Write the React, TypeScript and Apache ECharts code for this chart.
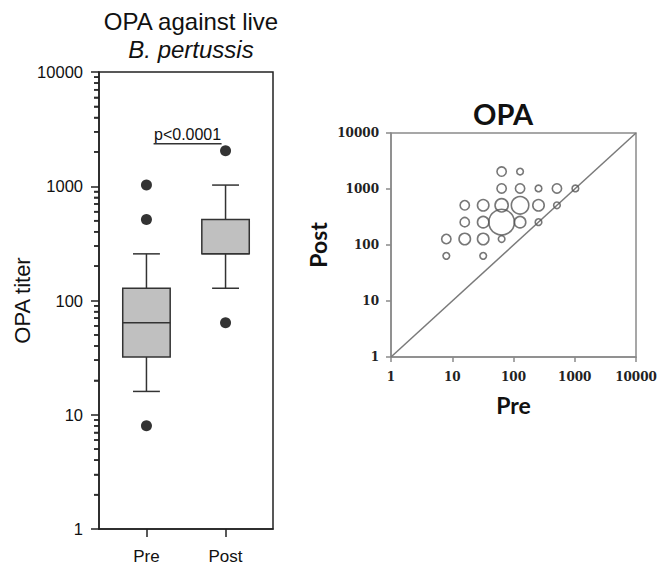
import React, { useEffect, useRef } from "react";
import * as echarts from "echarts";

// ---------- Left panel: box plot ----------
const boxCategories = ["Pre", "Post"];
// [low whisker, Q1, median, Q3, high whisker]
const boxStats = [
  [16, 32, 64, 128, 256],
  [128, 256, 256, 512, 1024],
];
const outlierGroup = [0, 0, 0, 1, 1];
const outlierValues = [1024, 512, 8, 2048, 64];
const pValueText = "p<0.0001";
const pValueSpan = [0.09, 0.95];
const pValueLevel = 2350;
const minorTickValues = [
  2, 3, 4, 5, 6, 7, 8, 9, 20, 30, 40, 50, 60, 70, 80, 90, 200, 300, 400, 500, 600,
  700, 800, 900, 2000, 3000, 4000, 5000, 6000, 7000, 8000, 9000,
];

// ---------- Right panel: bubble plot ----------
const bubblePre = [64, 128, 64, 128, 256, 512, 1024, 16, 32, 64, 128, 256, 512, 16, 32, 64, 128, 256, 8, 16, 32, 64, 8, 32];
const bubblePost = [2048, 2048, 1024, 1024, 1024, 1024, 1024, 512, 512, 512, 512, 512, 512, 256, 256, 256, 256, 256, 128, 128, 128, 128, 64, 64];
const bubbleCount = [2, 1, 2, 2, 1, 2, 1, 2, 3, 4, 7, 3, 1, 2, 3, 15, 3, 1, 2, 3, 3, 1, 1, 1];
const identityLine = [
  [1, 1],
  [10000, 10000],
];

const SANS = "'Liberation Sans', Arial, sans-serif";
const SERIF = "'DejaVu Serif', serif";
const BOLD_SANS = "Lato, 'Open Sans', sans-serif";

const plainNumber = (v: number) => String(Math.round(v));
const X_MIN = -0.6;
const X_MAX = 1.6;

export default function App() {
  const ref = useRef<HTMLDivElement>(null);

  useEffect(() => {
    if (!ref.current) return;
    const chart = echarts.init(ref.current, null, { renderer: "svg" });

    const boxData = boxStats.map((s, i) => [i, ...s]);
    const outlierData = outlierValues.map((v, i) => [outlierGroup[i], v]);
    const bubbleData = bubblePre.map((x, i) => [x, bubblePost[i], bubbleCount[i]]);
    const minorTickData = minorTickValues.map((v) => [X_MIN, v]);

    const option: any = {
      animation: false,
      backgroundColor: "#ffffff",
      title: [
        {
          text: "OPA against live",
          left: 186,
          top: 4,
          textAlign: "center",
          textStyle: { fontFamily: SANS, fontSize: 24, fontWeight: "normal", color: "#111" },
        },
        {
          text: "B. pertussis",
          left: 186,
          top: 32,
          textAlign: "center",
          textStyle: { fontFamily: SANS, fontSize: 24, fontWeight: "normal", fontStyle: "italic", color: "#111" },
        },
        {
          text: "OPA",
          left: 498,
          top: 94,
          textAlign: "center",
          textStyle: { fontFamily: BOLD_SANS, fontSize: 29, fontWeight: "bold", color: "#111" },
        },
      ],
      grid: [
        { left: 99, top: 72, width: 174, height: 457, show: true, borderColor: "#222", borderWidth: 1.5, backgroundColor: "transparent" },
        { left: 391, top: 133, width: 245, height: 224, show: true, borderColor: "#8a8a8a", borderWidth: 1.5, backgroundColor: "transparent" },
      ],
      xAxis: [
        {
          gridIndex: 0,
          type: "value",
          min: X_MIN,
          max: X_MAX,
          splitLine: { show: false },
          axisLine: { show: true, onZero: false, lineStyle: { color: "#222", width: 1.5 } },
          axisTick: { show: true, customValues: [0, 1], length: 8, lineStyle: { color: "#222", width: 1.5 } },
          axisLabel: {
            customValues: [0, 1],
            formatter: (v: number) => boxCategories[Math.round(v)] ?? "",
            fontFamily: SANS,
            fontSize: 17,
            color: "#111",
            margin: 19,
          },
        },
        {
          gridIndex: 1,
          type: "log",
          logBase: 10,
          min: 1,
          max: 10000,
          name: "Pre",
          nameLocation: "middle",
          nameGap: 36,
          nameTextStyle: { fontFamily: BOLD_SANS, fontSize: 23, fontWeight: "bold", color: "#111" },
          splitLine: { show: false },
          axisLine: { show: true, onZero: false, lineStyle: { color: "#8a8a8a", width: 1.5 } },
          axisTick: { show: true, length: 5, lineStyle: { color: "#8a8a8a", width: 1.5 } },
          axisLabel: { formatter: plainNumber, fontFamily: SERIF, fontWeight: "bold", fontSize: 12, color: "#222", margin: 14 },
        },
      ],
      yAxis: [
        {
          gridIndex: 0,
          type: "log",
          logBase: 10,
          min: 1,
          max: 10000,
          name: "OPA titer",
          nameLocation: "middle",
          nameGap: 64,
          nameTextStyle: { fontFamily: SANS, fontSize: 22, color: "#111" },
          splitLine: { show: false },
          axisLine: { show: true, onZero: false, lineStyle: { color: "#222", width: 1.5 } },
          axisTick: { show: true, length: 8, lineStyle: { color: "#222", width: 1.5 } },
          axisLabel: { formatter: plainNumber, fontFamily: SANS, fontSize: 16.5, color: "#111", margin: 16 },
        },
        {
          // minor log ticks (2..9 of each decade) on the left axis
          gridIndex: 0,
          type: "log",
          min: 1,
          max: 10000,
          position: "left",
          axisLine: { show: false, onZero: false },
          splitLine: { show: false },
          axisTick: { show: true, customValues: minorTickValues, length: 5, lineStyle: { color: "#222", width: 1.5 } },
          axisLabel: { show: false },
        },
        {
          gridIndex: 1,
          type: "log",
          logBase: 10,
          min: 1,
          max: 10000,
          name: "Post",
          nameLocation: "middle",
          nameGap: 62,
          nameTextStyle: { fontFamily: BOLD_SANS, fontSize: 23, fontWeight: "bold", color: "#111" },
          splitLine: { show: false },
          axisLine: { show: true, onZero: false, lineStyle: { color: "#8a8a8a", width: 1.5 } },
          axisTick: { show: true, length: 5, lineStyle: { color: "#8a8a8a", width: 1.5 } },
          axisLabel: { formatter: plainNumber, fontFamily: SERIF, fontWeight: "bold", fontSize: 12, color: "#222", margin: 12 },
        },
      ],
      series: [
        {
          // minor ticks, drawn as short dashes just outside the left axis
          type: "scatter",
          xAxisIndex: 0,
          yAxisIndex: 0,
          data: minorTickData,
          symbol: "rect",
          symbolSize: [5, 1.5],
          symbolOffset: [-2.5, 0],
          clip: false,
          silent: true,
          itemStyle: { color: "#222" },
          z: 5,
        },
        {
          type: "custom",
          xAxisIndex: 0,
          yAxisIndex: 0,
          data: boxData,
          encode: { x: 0, y: [1, 2, 3, 4, 5] },
          renderItem: (params: any, api: any) => {
            const x = api.value(0);
            const lo = api.value(1);
            const q1 = api.value(2);
            const med = api.value(3);
            const q3 = api.value(4);
            const hi = api.value(5);
            const hw = 0.3;
            const cw = 0.17;
            const pLo = api.coord([x, lo]);
            const pQ1 = api.coord([x, q1]);
            const pMed = api.coord([x, med]);
            const pQ3 = api.coord([x, q3]);
            const pHi = api.coord([x, hi]);
            const xl = api.coord([x - hw, q1])[0];
            const xr = api.coord([x + hw, q1])[0];
            const cl = api.coord([x - cw, q1])[0];
            const cr = api.coord([x + cw, q1])[0];
            const ls = { stroke: "#333", lineWidth: 1.5 };
            return {
              type: "group",
              children: [
                { type: "line", shape: { x1: pQ3[0], y1: pQ3[1], x2: pHi[0], y2: pHi[1] }, style: ls },
                { type: "line", shape: { x1: pQ1[0], y1: pQ1[1], x2: pLo[0], y2: pLo[1] }, style: ls },
                { type: "line", shape: { x1: cl, y1: pHi[1], x2: cr, y2: pHi[1] }, style: ls },
                { type: "line", shape: { x1: cl, y1: pLo[1], x2: cr, y2: pLo[1] }, style: ls },
                {
                  type: "rect",
                  shape: { x: xl, y: pQ3[1], width: xr - xl, height: pQ1[1] - pQ3[1] },
                  style: { fill: "#c0c0c0", stroke: "#333", lineWidth: 1.5 },
                },
                { type: "line", shape: { x1: xl, y1: pMed[1], x2: xr, y2: pMed[1] }, style: ls },
              ],
            };
          },
          z: 2,
        },
        {
          type: "scatter",
          xAxisIndex: 0,
          yAxisIndex: 0,
          data: outlierData,
          symbol: "circle",
          symbolSize: 11,
          itemStyle: { color: "#000" },
          z: 3,
        },
        {
          type: "custom",
          xAxisIndex: 0,
          yAxisIndex: 0,
          data: [[pValueSpan[0], pValueSpan[1], pValueLevel]],
          encode: { x: [0, 1], y: 2 },
          renderItem: (params: any, api: any) => {
            const a = api.coord([api.value(0), api.value(2)]);
            const b = api.coord([api.value(1), api.value(2)]);
            return {
              type: "group",
              children: [
                { type: "line", shape: { x1: a[0], y1: a[1], x2: b[0], y2: b[1] }, style: { stroke: "#333", lineWidth: 1.5 } },
                {
                  type: "text",
                  x: (a[0] + b[0]) / 2,
                  y: a[1] - 1,
                  style: {
                    text: pValueText,
                    fontFamily: SANS,
                    fontSize: 16,
                    fill: "#111",
                    textAlign: "center",
                    textVerticalAlign: "bottom",
                  },
                },
              ],
            };
          },
        },
        {
          type: "line",
          xAxisIndex: 1,
          yAxisIndex: 2,
          data: identityLine,
          symbol: "none",
          lineStyle: { color: "#7a7a7a", width: 1.5 },
          z: 1,
        },
        {
          type: "scatter",
          xAxisIndex: 1,
          yAxisIndex: 2,
          data: bubbleData,
          symbol: "circle",
          symbolSize: (d: number[]) => 6.6 * Math.sqrt(d[2]),
          itemStyle: { color: "rgba(255,255,255,0)", borderColor: "#555", borderWidth: 1.6 },
          z: 3,
        },
      ],
    };

    chart.setOption(option);
    return () => chart.dispose();
  }, []);

  return (
    <div
      ref={ref}
      style={{ position: "fixed", left: 0, top: 0, width: 669, height: 565, background: "#fff" }}
    />
  );
}
